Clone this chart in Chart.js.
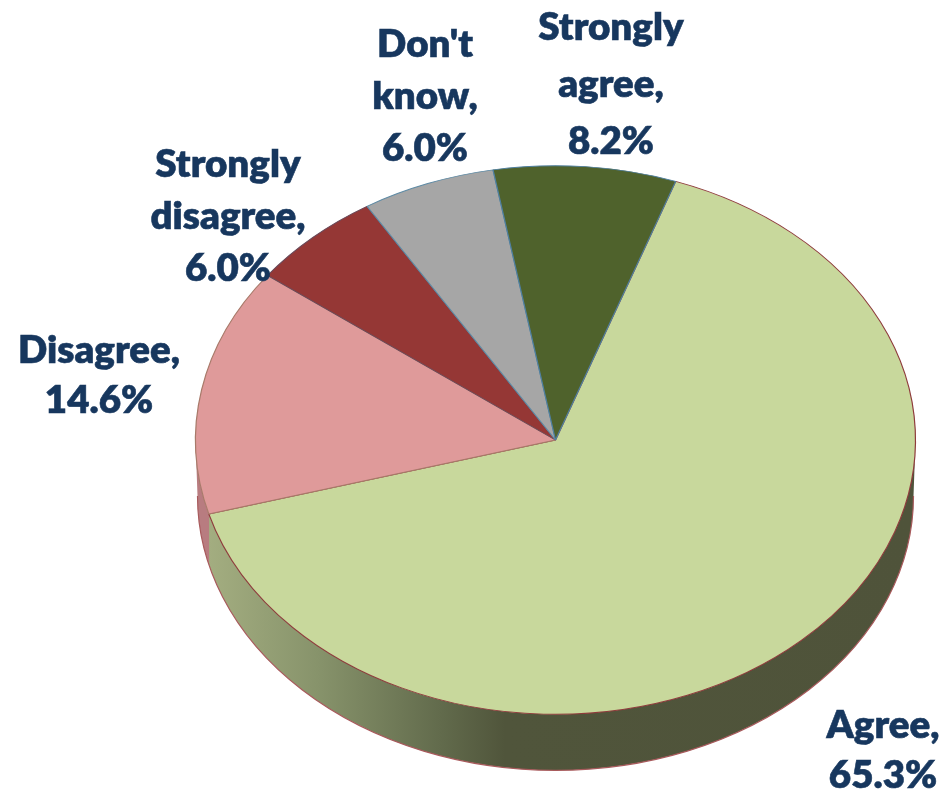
<!DOCTYPE html>
<html>
<head>
<meta charset="utf-8">
<script src="https://cdn.jsdelivr.net/npm/chart.js@4"></script>
<style>
  html, body { margin: 0; padding: 0; background: #fff; overflow: hidden; }
  canvas { display: block; filter: blur(0.45px); }
</style>
</head>
<body>
<canvas id="pie" width="946" height="791"></canvas>
<script>
// values, clockwise from the top right
var categories = ["Agree", "Disagree", "Strongly disagree", "Don't know", "Strongly agree"];
var percents = [65.3, 14.6, 6.0, 6.0, 8.2];
var sliceColors = ["#c8d89c", "#df9a9a", "#953735", "#a6a6a6", "#4f622c"];
var sliceBorders = ["#8e3b3b", "#a87a6a", "#6a4a5a", "#5f8ba5", "#4f7f9f"];

// label centres, first line / line gap
var labelSpots = [[883, 726, 50], [99, 351, 50], [228, 165, 52], [425, 45, 52], [611, 28, 57]];

var squash = 0.762;   // tilt of the pie
var pieY = 440;       // centre of the top face on the page
var depth = 56;       // height of the side wall

function tilt(ctx, arc) {
  ctx.translate(0, pieY);
  ctx.scale(1, squash);
  ctx.translate(0, -arc.y);
}

var tiltPlugin = {
  id: "tilt",
  beforeDatasetsDraw: function(chart) {
    var ctx = chart.ctx;
    var arcs = chart.getDatasetMeta(0).data;
    var r = arcs[0].outerRadius, cx = arcs[0].x;
    var ry = r * squash;
    // where Agree meets Disagree on the rim, the wall changes colour there
    var splitX = cx + r * Math.cos(arcs[0].endAngle);
    var left = cx - r, w = 2 * r;
    var g = ctx.createLinearGradient(left, 0, left + w, 0);
    var s = (splitX - left) / w;
    g.addColorStop(0, "#b87c80");
    g.addColorStop(s, "#b87c80");
    g.addColorStop(s + 0.001, "#a3ad80");
    g.addColorStop(0.17, "#87936b");
    g.addColorStop(0.34, "#626b4c");
    g.addColorStop(0.43, "#50553b");
    g.addColorStop(1, "#4f533a");
    ctx.save();
    ctx.beginPath();
    ctx.ellipse(cx, pieY, r, ry, 0, 0, Math.PI);
    ctx.ellipse(cx, pieY + depth, r - 2, ry, 0, Math.PI, 0, true);
    ctx.closePath();
    ctx.fillStyle = g;
    ctx.fill();
    ctx.strokeStyle = "#a85a5c";
    ctx.lineWidth = 1.2;
    ctx.beginPath();
    ctx.ellipse(cx, pieY + depth, r - 2, ry, 0, 0, Math.PI);
    ctx.stroke();
    ctx.restore();

    ctx.save();
    tilt(ctx, arcs[0]);
  },
  afterDatasetsDraw: function(chart) {
    chart.ctx.restore();
  },
  afterDraw: function(chart) {
    var ctx = chart.ctx;
    ctx.save();
    ctx.font = "800 38.5px Lato";
    ctx.fillStyle = "#17375e";
    ctx.strokeStyle = "#17375e";
    ctx.lineWidth = 0.6;
    ctx.textAlign = "center";
    ctx.textBaseline = "middle";
    categories.forEach(function(name, i) {
      var words = (name + ",").split(" ");
      words.push(percents[i].toFixed(1) + "%");
      words.forEach(function(word, j) {
        var y = labelSpots[i][1] + j * labelSpots[i][2];
        ctx.fillText(word, labelSpots[i][0], y);
        ctx.strokeText(word, labelSpots[i][0], y);
      });
    });
    ctx.restore();
  }
};

new Chart(document.getElementById("pie"), {
  type: "pie",
  data: {
    labels: categories,
    datasets: [{
      data: percents,
      backgroundColor: sliceColors,
      borderColor: sliceBorders,
      borderWidth: 1.2
    }]
  },
  options: {
    responsive: false,
    animation: false,
    rotation: 19.5,
    radius: 360,
    layout: { padding: { left: 165, top: 0, right: 0, bottom: 0 } },
    plugins: { legend: { display: false }, tooltip: { enabled: false } }
  },
  plugins: [tiltPlugin]
});
</script>
</body>
</html>
